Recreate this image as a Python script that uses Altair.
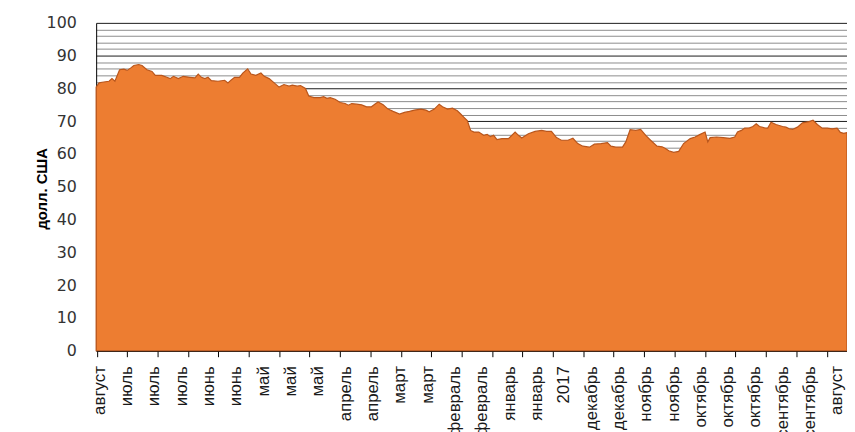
import altair as alt
import pandas as pd

# x = days back from the latest date (left edge), y = price, USD
days = [0, 1.5, 3.0, 6.6, 8.1, 9.6, 12.0, 14.2, 15.9, 17.6, 19.3, 21.8, 23.5, 26.0, 28.6, 30.3,
        33.6, 36.2, 37.9, 39.6, 42.1, 44.6, 48.0, 50.6, 52.3, 53.9, 55.7, 57.3, 59.0, 62.4,
        65.8, 67.5, 69.2, 70.9, 73.4, 75.1, 77.6, 79.3, 81.8, 84.4, 86.1, 88.6, 91.2, 93.7,
        96.2, 98.8, 100.5, 103.0, 104.7, 107.2, 108.9, 111.5, 114.8, 116.5, 118.2, 119.9,
        122.4, 125.0, 127.5, 129.2, 130.9, 133.4, 136.0, 138.5, 141.0, 142.7, 144.4, 147.0,
        149.5, 152.1, 155.4, 157.9, 160.5, 163.0, 166.4, 168.9, 170.6, 173.2, 175.7, 177.4,
        180.0, 182.5, 185.0, 186.7, 188.4, 190.1, 191.8, 193.5, 196.0, 198.5, 200.3, 201.9,
        203.6, 205.3, 207.9, 211.2, 214.6, 216.3, 218.0, 221.4, 224.8, 228.2, 230.7, 233.2,
        235.8, 238.3, 241.7, 244.2, 246.7, 249.3, 252.7, 255.2, 258.6, 261.9, 263.7, 266.2,
        269.6, 271.3, 273.5, 276.4, 278.9, 281.5, 284.0, 287.3, 289.9, 291.6, 293.3, 295.8,
        298.4, 300.9, 304.3, 306.8, 309.4, 311.9, 313.3, 314.5, 317.8, 321.2, 324.6, 327.1,
        328.5, 330.5, 332.2, 334.7, 336.4, 338.1, 339.8, 342.3, 344.0, 345.7, 348.2, 351.6,
        353.3, 355.0, 356.7, 359.2, 361.8, 365.2, 367.2, 369.4, 371.9, 374.5, 377.0, 379.5,
        381.2, 382.9, 384.6]
price = [80.4, 81.7, 81.9, 82.2, 83.0, 82.2, 85.7, 85.9, 85.5, 86.2, 87.0, 87.3, 87.0, 85.7, 85.2, 84.0,
         84.0, 83.4, 83.0, 83.7, 83.0, 83.7, 83.4, 83.2, 84.4, 83.4, 83.0, 83.4, 82.4, 82.2,
         82.5, 81.7, 82.6, 83.4, 83.4, 84.7, 86.0, 84.4, 84.0, 84.7, 83.7, 83.0, 81.7, 80.4,
         81.2, 80.7, 81.0, 80.7, 80.9, 80.0, 77.7, 77.2, 77.2, 77.5, 77.0, 77.2,
         76.7, 75.7, 75.4, 74.9, 75.4, 75.2, 75.0, 74.4, 74.4, 75.2, 75.9, 75.0,
         73.7, 73.0, 72.2, 72.7, 73.0, 73.4, 73.7, 73.4, 72.9, 73.7, 75.2, 74.4,
         73.7, 74.0, 73.2, 72.2, 71.2, 70.2, 67.2, 66.7, 66.7, 65.7, 66.0, 65.3,
         65.7, 64.4, 64.7, 64.7, 66.7, 65.7, 64.9, 66.2, 66.9, 67.2, 66.9, 66.9,
         65.0, 64.2, 64.2, 64.8, 63.2, 62.4, 62.1, 63.0, 63.2, 63.5, 62.4, 62.1,
         62.1, 63.7, 67.4, 67.2, 67.5, 65.7, 64.2, 62.4, 62.2, 61.7, 61.0, 60.5,
         60.8, 63.2, 64.7, 65.2, 66.0, 66.7, 63.7, 65.0, 65.2, 65.0, 64.8, 65.2,
         66.7, 67.2, 67.9, 68.0, 68.4, 69.2, 68.4, 68.0, 67.9, 69.7, 69.0, 68.4,
         68.2, 67.7, 67.5, 68.2, 69.5, 69.9, 70.3, 69.0, 67.9, 67.9, 67.7, 67.9,
         66.6, 66.3, 66.5]

label_names = ["август", "июль", "июль", "июль", "июнь", "июнь", "май", "май", "май",
               "апрель", "апрель", "март", "март", "февраль", "февраль", "январь", "январь",
               "2017", "декабрь", "декабрь", "ноябрь", "ноябрь", "октябрь", "октябрь",
               "октябрь", "сентябрь", "сентябрь", "август"]
label_days = [1.5, 15.5, 29.5, 43.5, 57.5, 71.5, 85.5, 99.5, 113.5, 127.5, 141.5, 155.5,
              169.5, 183.5, 197.5, 211.5, 225.5, 239.5, 253.5, 267.5, 281.5, 295.5, 309.5,
              323.5, 337.5, 351.5, 365.5, 379.5]
tick_days = [0.3, 15.8, 31.4, 47.0, 62.6, 78.2, 93.7, 109.3, 124.9, 140.5, 156.1, 171.6,
             187.2, 202.8, 218.4, 234.0, 249.5, 265.1, 280.7, 296.3, 311.9, 327.4, 343.0,
             358.6, 374.2]
y_grid = list(range(0, 101, 2))

df = pd.DataFrame({"d": days, "v": price})

names_js = "[" + ",".join("'" + n + "'" for n in label_names) + "]"
label_expr = names_js + "[round((datum.value - 1.5) / 14)]"

xscale = alt.Scale(domain=[0, 384.6], nice=False, zero=False)

area = alt.Chart(df).mark_area(
    color="#ED7D31", stroke="#B9561C", strokeWidth=1.2, interpolate="linear"
).encode(
    x=alt.X("d:Q", scale=xscale, axis=alt.Axis(
        orient="bottom", values=label_days, labelExpr=label_expr, ticks=False,
        grid=False, domain=True, domainColor="#000000", domainWidth=1,
        labelAngle=270, labelAlign="right", labelBaseline="middle",
        labelFont="Liberation Sans", labelFontSize=17, labelColor="#1a1a1a",
        labelPadding=15, labelOverlap=False, labelBound=False, labelFlush=False, title=None)),
    y=alt.Y("v:Q", scale=alt.Scale(domain=[0, 100], nice=False), axis=alt.Axis(
        values=y_grid, labelExpr="datum.value % 10 === 0 ? datum.label : ''",
        ticks=False, domain=True, domainColor="#000000", domainWidth=1,
        grid=True, gridWidth=1,
        gridColor=alt.condition("datum.value % 10 === 0", alt.value("#1a1a1a"), alt.value("#8c8c8c")),
        labelFont="DejaVu Sans", labelFontSize=16, labelColor="#333333", labelPadding=20,
        labelOverlap=False,
        title="долл. США", titleFont="Liberation Sans", titleFontSize=15, titleFontWeight="bold",
        titleColor="#000000", titleX=-50, titleY=167, titleAlign="center", titleAngle=270,
        titleBaseline="alphabetic")),
)

ticks = alt.Chart(df).mark_rule(opacity=0).encode(
    x=alt.X("d:Q", scale=xscale, axis=alt.Axis(
        orient="bottom", values=tick_days, labels=False, domain=False, grid=False,
        ticks=True, tickSize=6, tickColor="#000000", tickWidth=1, title=None)),
)

chart = alt.layer(area, ticks).resolve_axis(x="independent").properties(
    width=758, height=331,
    autosize="none",
    padding={"left": 89, "top": 13, "right": 0, "bottom": 80},
).configure_view(stroke=None)

chart.save("out.html", embed_options={"renderer": "svg", "actions": False})
